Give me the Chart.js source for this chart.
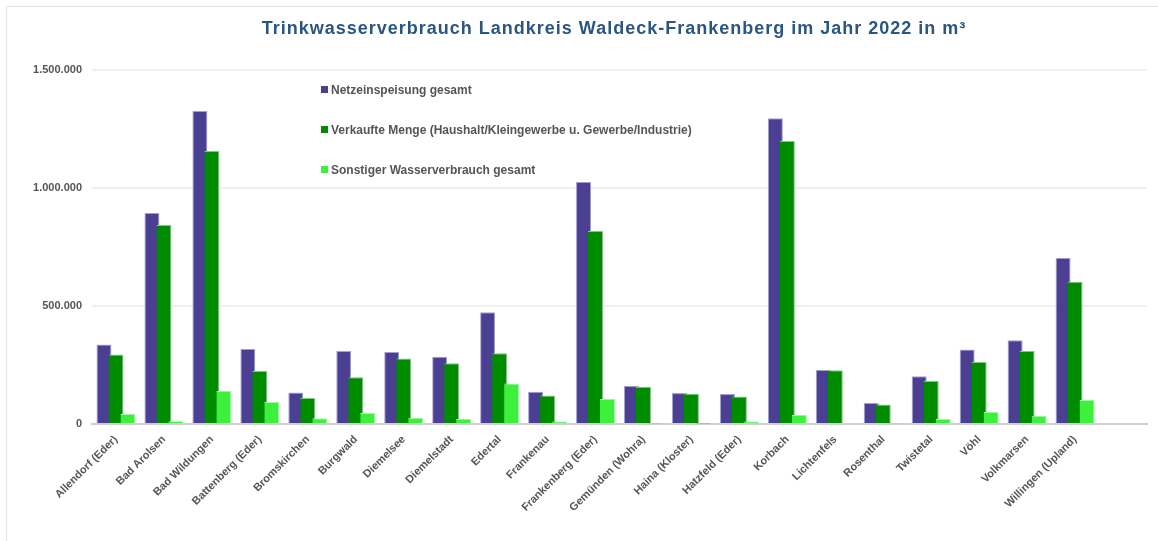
<!DOCTYPE html>
<html lang="de">
<head>
<meta charset="utf-8">
<title>Trinkwasserverbrauch 2022</title>
<script src="https://cdn.jsdelivr.net/npm/chart.js@4/dist/chart.umd.min.js"></script>
<style>
  html, body { margin: 0; padding: 0; background: #fff; }
  body { width: 1158px; height: 541px; position: relative; overflow: hidden; font-family: "Liberation Sans", Arial, sans-serif; }
  #frame { position: absolute; left: 6px; top: 6px; width: 1200px; height: 600px; border: 1px solid #e4e4e4; }
  #title { position: absolute; left: 0; width: 1228px; top: 18px; text-align: center; font-size: 18px; font-weight: bold; letter-spacing: 1px; color: #2a5682; }
  #wrap { position: absolute; left: 0; top: 0; width: 1158px; height: 541px; }
  #legend { position: absolute; left: 321px; top: 82px; font-size: 12px; font-weight: bold; color: #555; }
  #legend div { height: 16px; line-height: 16px; margin-bottom: 24px; white-space: nowrap; }
  #legend span.box { display: inline-block; width: 7px; height: 7px; margin-right: 3px; vertical-align: 1px; }
</style>
</head>
<body>
<div id="frame"></div>
<div id="wrap"><canvas id="waterChart"></canvas></div>
<div id="title">Trinkwasserverbrauch Landkreis Waldeck-Frankenberg im Jahr 2022 in m³</div>
<div id="legend"></div>
<script>
// Daten
const gemeinden = [
  "Allendorf (Eder)", "Bad Arolsen", "Bad Wildungen", "Battenberg (Eder)", "Bromskirchen",
  "Burgwald", "Diemelsee", "Diemelstadt", "Edertal", "Frankenau", "Frankenberg (Eder)",
  "Gemünden (Wohra)", "Haina (Kloster)", "Hatzfeld (Eder)", "Korbach", "Lichtenfels",
  "Rosenthal", "Twistetal", "Vöhl", "Volkmarsen", "Willingen (Upland)"
];
const netzeinspeisung = [337000, 894000, 1326000, 318000, 134000, 309000, 305000, 285000, 473000, 137000, 1025000,
  161000, 131000, 127000, 1296000, 229000, 89000, 202000, 316000, 355000, 703000];
const verkaufteMenge = [294000, 843000, 1157000, 225000, 110000, 198000, 278000, 257000, 300000, 121000, 818000,
  157000, 128000, 116000, 1199000, 228000, 83000, 182000, 263000, 309000, 603000];
const sonstigerVerbrauch = [42000, 12000, 140000, 93000, 24000, 47000, 27000, 21000, 172000, 11000, 106000,
  2000, 1000, 11000, 38000, 0, 3000, 21000, 51000, 35000, 102000];
const yTicks = [0, 500000, 1000000, 1500000];

const fontFam = '"Liberation Sans", Arial, sans-serif';

function fmt(v) {
  return String(v).replace(/\B(?=(\d{3})+(?!\d))/g, ".");
}

// rechte Balken über linke zeichnen (wie im Original)
const drawInOrder = {
  id: "drawInOrder",
  beforeDatasetsDraw(chart) {
    chart.getSortedVisibleDatasetMetas().forEach(m => m.controller.draw());
    return false;
  }
};

const ctx = document.getElementById("waterChart").getContext("2d");
const chart = new Chart(ctx, {
  type: "bar",
  data: {
    labels: [...gemeinden, ""],
    datasets: [
      { label: "Netzeinspeisung gesamt", data: netzeinspeisung, backgroundColor: "#4b3f93", borderColor: "#a49fce", borderWidth: { top: 1, left: 1, right: 1, bottom: 0 } },
      { label: "Verkaufte Menge (Haushalt/Kleingewerbe u. Gewerbe/Industrie)", data: verkaufteMenge, backgroundColor: "#008c00", borderColor: "#7fc67f", borderWidth: { top: 1, left: 0, right: 1, bottom: 0 } },
      { label: "Sonstiger Wasserverbrauch gesamt", data: sonstigerVerbrauch, backgroundColor: "#3cf03c", borderColor: "#9ef79e", borderWidth: { top: 1, left: 0, right: 1, bottom: 0 } }
    ]
  },
  options: {
    responsive: false,
    animation: false,
    maintainAspectRatio: false,
    datasets: { bar: { categoryPercentage: 0.75, barPercentage: 1.25 } },
    layout: { padding: { top: 70, right: 11, left: 0, bottom: 0 } },
    plugins: {
      legend: { display: false },
      title: { display: false },
      tooltip: { enabled: false }
    },
    scales: {
      x: {
        grid: { display: false },
        border: { display: true, color: "#cfcfcf", width: 2 },
        ticks: {
          autoSkip: false,
          maxRotation: 45,
          minRotation: 45,
          color: "#555",
          padding: 1,
          font: { family: fontFam, size: 11, weight: "bold" }
        },
        afterFit(scale) { scale.height = 117; }
      },
      y: {
        min: 0,
        max: 1500000,
        afterBuildTicks(scale) { scale.ticks = yTicks.map(v => ({ value: v })); },
        grid: { color: "#efefef", lineWidth: 2, drawTicks: false },
        border: { display: false },
        ticks: {
          color: "#555",
          padding: 10,
          font: { family: fontFam, size: 11, weight: "bold" },
          callback: v => fmt(v)
        },
        afterFit(scale) { scale.width = 92; }
      }
    }
  },
  plugins: [drawInOrder]
});
chart.canvas.style.width = "1158px";
chart.canvas.style.height = "541px";
chart.resize(1158, 541);

// Legende als HTML
const legend = document.getElementById("legend");
chart.data.datasets.forEach(ds => {
  const row = document.createElement("div");
  const box = document.createElement("span");
  box.className = "box";
  box.style.background = ds.backgroundColor;
  row.appendChild(box);
  row.appendChild(document.createTextNode(ds.label));
  legend.appendChild(row);
});
</script>
</body>
</html>
